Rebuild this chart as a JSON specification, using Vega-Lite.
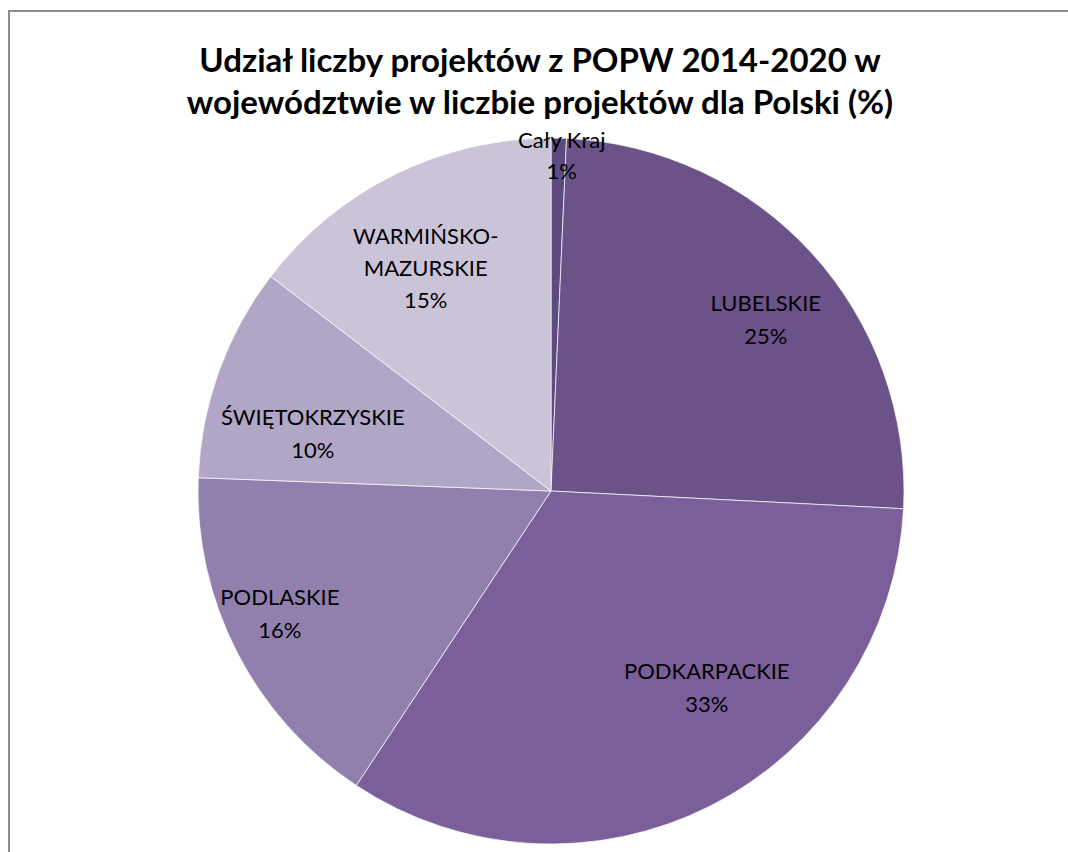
{
  "$schema": "https://vega.github.io/schema/vega-lite/v6.json",
  "width": 1084,
  "height": 960,
  "autosize": {"type": "none"},
  "padding": {"left": 9, "top": 11, "right": 0, "bottom": 0},
  "background": "white",
  "config": {"font": "Lato"},
  "title": {
    "text": ["Udział liczby projektów z POPW 2014-2020 w", "województwie w liczbie projektów dla Polski (%)"],
    "font": "Lato",
    "fontSize": 33,
    "fontWeight": "bold",
    "color": "#000000",
    "lineHeight": 42,
    "anchor": "middle",
    "dx": -11,
    "dy": 115
  },
  "data": {
    "values": [
      {"order": 1, "region": "Cały Kraj", "value": 0.7, "label": "Cały Kraj\n1%"},
      {"order": 2, "region": "LUBELSKIE", "value": 25.1, "label": "LUBELSKIE\n25%"},
      {"order": 3, "region": "PODKARPACKIE", "value": 33.5, "label": "PODKARPACKIE\n33%"},
      {"order": 4, "region": "PODLASKIE", "value": 16.3, "label": "PODLASKIE\n16%"},
      {"order": 5, "region": "ŚWIĘTOKRZYSKIE", "value": 9.8, "label": "ŚWIĘTOKRZYSKIE\n10%"},
      {"order": 6, "region": "WARMIŃSKO-MAZURSKIE", "value": 14.6, "label": "WARMIŃSKO-\nMAZURSKIE\n15%"}
    ]
  },
  "layer": [
    {
      "mark": {"type": "rect", "fill": null, "fillOpacity": 0, "stroke": "#8C8C8C", "strokeWidth": 2},
      "encoding": {}
    },
    {
      "mark": {"type": "arc", "outerRadius": 353, "stroke": "#FFFFFF", "strokeWidth": 0.7},
      "encoding": {
        "theta": {"field": "value", "type": "quantitative", "stack": true},
        "order": {"field": "order", "type": "ordinal"},
        "color": {
          "field": "region",
          "type": "nominal",
          "scale": {
            "domain": ["Cały Kraj", "LUBELSKIE", "PODKARPACKIE", "PODLASKIE", "ŚWIĘTOKRZYSKIE", "WARMIŃSKO-MAZURSKIE"],
            "range": ["#5C4A80", "#6B5289", "#7B5F9B", "#9180AE", "#B1A6C6", "#CBC4D9"]
          },
          "legend": null
        }
      }
    },
    {
      "mark": {"type": "text", "radius": 350, "dx": 3, "fontSize": 22, "font": "Lato", "color": "#000000", "lineBreak": "\n", "lineHeight": 31, "align": "center", "baseline": "middle"},
      "encoding": {
        "theta": {"field": "value", "type": "quantitative", "stack": true},
        "order": {"field": "order", "type": "ordinal"},
        "text": {"condition": {"test": "datum.region === 'Cały Kraj'", "field": "label"}, "value": ""}
      }
    },
    {
      "mark": {"type": "text", "radius": 285, "dx": 4, "dy": 5, "fontSize": 22, "font": "Lato", "color": "#000000", "lineBreak": "\n", "lineHeight": 33, "align": "center", "baseline": "middle"},
      "encoding": {
        "theta": {"field": "value", "type": "quantitative", "stack": true},
        "order": {"field": "order", "type": "ordinal"},
        "text": {"condition": {"test": "datum.region === 'LUBELSKIE'", "field": "label"}, "value": ""}
      }
    },
    {
      "mark": {"type": "text", "radius": 250, "dx": 43, "dy": -42, "fontSize": 22, "font": "Lato", "color": "#000000", "lineBreak": "\n", "lineHeight": 33, "align": "center", "baseline": "middle"},
      "encoding": {
        "theta": {"field": "value", "type": "quantitative", "stack": true},
        "order": {"field": "order", "type": "ordinal"},
        "text": {"condition": {"test": "datum.region === 'PODKARPACKIE'", "field": "label"}, "value": ""}
      }
    },
    {
      "mark": {"type": "text", "radius": 298, "dx": -6, "dy": -29, "fontSize": 22, "font": "Lato", "color": "#000000", "lineBreak": "\n", "lineHeight": 33, "align": "center", "baseline": "middle"},
      "encoding": {
        "theta": {"field": "value", "type": "quantitative", "stack": true},
        "order": {"field": "order", "type": "ordinal"},
        "text": {"condition": {"test": "datum.region === 'PODLASKIE'", "field": "label"}, "value": ""}
      }
    },
    {
      "mark": {"type": "text", "radius": 250, "dx": -3, "dy": 12, "fontSize": 22, "font": "Lato", "color": "#000000", "lineBreak": "\n", "lineHeight": 33, "align": "center", "baseline": "middle"},
      "encoding": {
        "theta": {"field": "value", "type": "quantitative", "stack": true},
        "order": {"field": "order", "type": "ordinal"},
        "text": {"condition": {"test": "datum.region === 'ŚWIĘTOKRZYSKIE'", "field": "label"}, "value": ""}
      }
    },
    {
      "mark": {"type": "text", "radius": 283, "fontSize": 22, "font": "Lato", "color": "#000000", "lineBreak": "\n", "lineHeight": 32, "align": "center", "baseline": "middle"},
      "encoding": {
        "theta": {"field": "value", "type": "quantitative", "stack": true},
        "order": {"field": "order", "type": "ordinal"},
        "text": {"condition": {"test": "datum.region === 'WARMIŃSKO-MAZURSKIE'", "field": "label"}, "value": ""}
      }
    }
  ]
}
